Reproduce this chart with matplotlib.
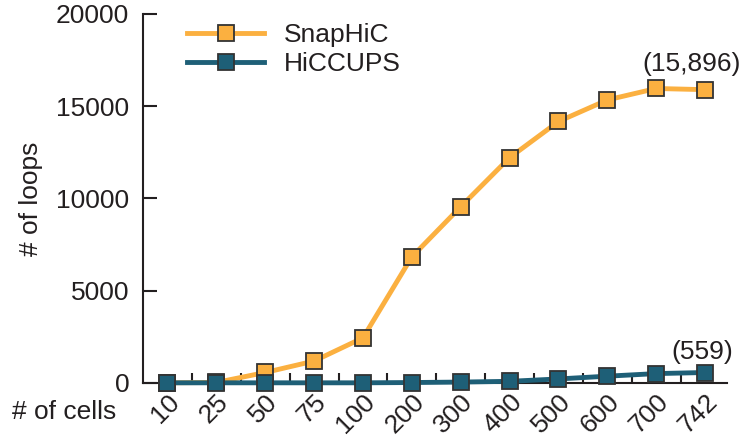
import matplotlib.pyplot as plt
import numpy as np

plt.rcParams['font.family'] = ['Liberation Sans', 'DejaVu Sans']

# data
cells = ["10", "25", "50", "75", "100", "200", "300", "400", "500", "600", "700", "742"]
snaphic = [0, 20, 560, 1180, 2440, 6830, 9550, 12210, 14170, 15340, 15960, 15896]
hiccups = [0, 0, 0, 0, 0, 15, 40, 80, 210, 360, 500, 559]

orange = "#FBB040"
teal = "#1E5F77"
dark = "#231F20"
fs = 19

fig = plt.figure(figsize=(7.45, 4.37), dpi=100)
ax = fig.add_axes([0.192, 0.124, 0.784, 0.844])

x = np.arange(len(cells))
ax.plot(x, snaphic, color=orange, lw=3.5, marker="s", ms=11.5,
        mfc=orange, mec="#333333", mew=1.3, label="SnapHiC", clip_on=False, zorder=3)
ax.plot(x, hiccups, color=teal, lw=3.5, marker="s", ms=11.5,
        mfc=teal, mec="#333333", mew=1.3, label="HiCCUPS", clip_on=False, zorder=4)

ax.set_xlim(-0.5, 11.45)
ax.set_ylim(0, 20000)
ax.set_yticks([0, 5000, 10000, 15000, 20000])
ax.set_xticks(x)
ax.set_xticklabels(cells, rotation=45, ha="right", rotation_mode="anchor")
ax.set_xticks(np.arange(0.5, 11.5, 1), minor=True)

ax.tick_params(axis="y", direction="in", length=10, width=1.5, color=dark,
               labelsize=fs, labelcolor=dark, pad=10)
ax.tick_params(axis="x", which="major", length=0, labelsize=fs, labelcolor=dark, pad=5)
ax.tick_params(axis="x", which="minor", direction="in", length=7, width=1.5, color=dark)

for s in ["top", "right"]:
    ax.spines[s].set_visible(False)
for s in ["left", "bottom"]:
    ax.spines[s].set_linewidth(1.5)
    ax.spines[s].set_color(dark)

ax.set_ylabel("# of loops", fontsize=fs, color=dark, labelpad=9)
fig.text(0.016, 0.058, "# of cells", fontsize=fs, color=dark, va="center")

ax.annotate("(15,896)", (11, snaphic[-1]), xytext=(26, 10), textcoords="offset points",
            ha="right", va="bottom", fontsize=fs, color=dark)
ax.annotate("(559)", (11, hiccups[-1]), xytext=(-2, 6), textcoords="offset points",
            ha="center", va="bottom", fontsize=fs, color=dark)

ax.legend(loc="upper left", bbox_to_anchor=(0.049, 1.018), frameon=False, fontsize=fs,
          handlelength=2.9, handletextpad=0.75, labelspacing=0.2, labelcolor=dark,
          borderaxespad=0.2)

fig.savefig("out.png", dpi=100)
